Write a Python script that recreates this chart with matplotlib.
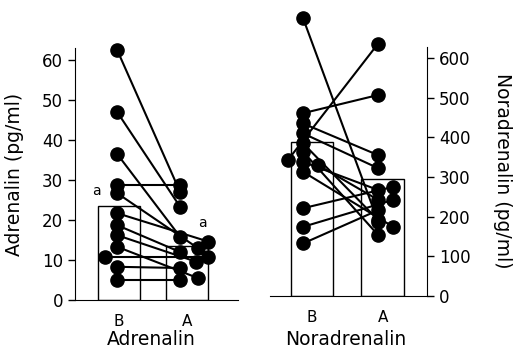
import matplotlib.pyplot as plt

# Adrenalin (pg/ml), before (B) and after (A), one pair per subject
adr_b = [62.5, 47.0, 36.5, 28.75, 26.7, 21.7, 18.7, 16.2, 13.3, 10.8, 8.3, 5.0]
adr_a = [27.0, 23.3, 15.8, 28.75, 13.0, 14.6, 12.0, 9.6, 5.5, 10.8, 8.0, 5.0]
adr_means = [23.6, 13.5]

# Noradrenalin (pg/ml)
nor_b = [701, 461, 435, 410, 385, 364, 343, 338, 330, 313, 221, 174, 132]
nor_a = [187, 507, 355, 322, 191, 153, 637, 267, 242, 174, 275, 242, 216]
nor_means = [387, 295]

groups = ['B', 'A']

# horizontal jitter of overlapping points (styling only)
adr_b_dx = [0, 0, 0, 0, 0, 0, 0, 0, 0, -0.19, 0, 0]
adr_a_dx = [0, 0, 0, 0, 0.28, 0.45, 0, 0.25, 0.28, 0.45, 0, 0]
nor_b_dx = [0, 0, 0, 0, 0, 0, -0.2, 0, 0.2, 0, 0, 0, 0]
nor_a_dx = [0, 0, 0, 0, 0, 0, 0, 0, 0, 0.2, 0.2, 0.2, 0]

plt.rcParams['font.family'] = ['DejaVu Sans']

fig = plt.figure(figsize=(5.14, 3.49), dpi=100)
ax1 = fig.add_axes([75/514, 1-300/349, 163/514, 252/349])
ax2 = fig.add_axes([270/514, 1-295.7/349, 157/514, 249/349])


def draw_panel(ax, b, a, bdx, adx, means, bar_x, width):
 ax.bar(bar_x, means, width=width, color='white', edgecolor='black', lw=1, zorder=1)
 for i in range(len(b)):
  ax.plot([0+bdx[i], 1+adx[i]], [b[i], a[i]], 'k-', lw=1.5, zorder=2, clip_on=False)
 ax.plot([0+d for d in bdx], b, 'ko', ms=9.5, zorder=3, clip_on=False)
 ax.plot([1+d for d in adx], a, 'ko', ms=9.5, zorder=3, clip_on=False)
 ax.set_xticks(bar_x)
 ax.set_xticklabels(groups)
 ax.tick_params(axis='x', length=0, pad=10, labelsize=11)
 ax.tick_params(axis='y', length=5, width=1, labelsize=12)
 ax.spines['top'].set_visible(False)


draw_panel(ax1, adr_b, adr_a, adr_b_dx, adr_a_dx, adr_means, [0.03, 1.11], 0.67)
ax1.set_xlim(-0.67, 1.92)
ax1.set_ylim(0, 63)
ax1.set_yticks([0, 10, 20, 30, 40, 50, 60])
ax1.spines['right'].set_visible(False)
ax1.set_ylabel('Adrenalin (pg/ml)', fontsize=13.5, labelpad=13)
ax1.set_xlabel('Adrenalin', fontsize=13.5)
ax1.xaxis.set_label_coords(0.47, -0.12)
ax1.text(-0.33, 25.5, 'a', fontsize=10, ha='center', va='bottom')
ax1.text(1.35, 17.5, 'a', fontsize=10, ha='center', va='bottom')

draw_panel(ax2, nor_b, nor_a, nor_b_dx, nor_a_dx, nor_means, [0.12, 1.06], 0.57)
ax2.set_xlim(-0.44, 1.65)
ax2.set_ylim(0, 629)
ax2.set_yticks([0, 100, 200, 300, 400, 500, 600])
ax2.spines['left'].set_visible(False)
ax2.yaxis.tick_right()
ax2.yaxis.set_label_position('right')
ax2.set_ylabel('Noradrenalin (pg/ml)', fontsize=13.5, rotation=270, labelpad=30)
ax2.set_xlabel('Noradrenalin', fontsize=13.5)
ax2.xaxis.set_label_coords(0.48, -0.138)

fig.savefig('out.png', dpi=100)
